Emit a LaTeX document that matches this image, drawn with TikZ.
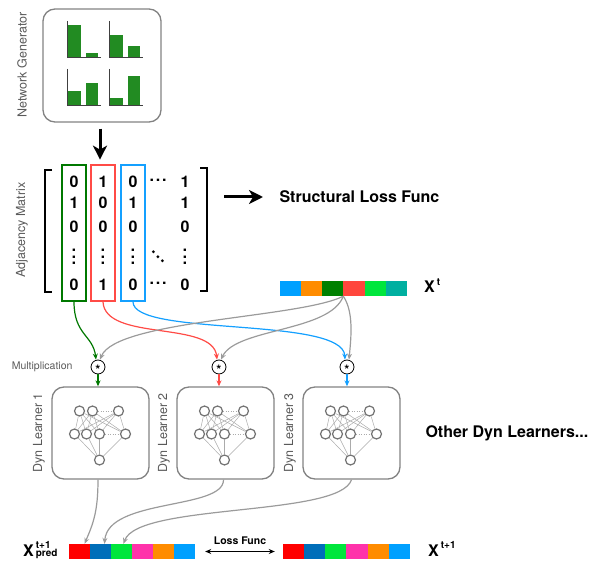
\documentclass[tikz,border=0pt]{standalone}
\usepackage{fontspec}
\setmainfont{TeX Gyre Heros}
\usetikzlibrary{arrows.meta,positioning}
\definecolor{gengreen}{RGB}{34,139,34}
\definecolor{colgreen}{RGB}{0,120,0}
\definecolor{colred}{RGB}{255,75,70}
\definecolor{colblue}{RGB}{20,160,255}
\definecolor{cblue}{RGB}{0,160,255}
\definecolor{corange}{RGB}{255,140,0}
\definecolor{cdkgreen}{RGB}{0,128,0}
\definecolor{cred}{RGB}{255,70,60}
\definecolor{cgreen}{RGB}{0,230,60}
\definecolor{cteal}{RGB}{0,175,160}
\definecolor{predred}{RGB}{255,0,0}
\definecolor{cnavy}{RGB}{0,110,185}
\definecolor{cpink}{RGB}{255,50,170}
\definecolor{boxgray}{RGB}{130,130,130}
\definecolor{txtgray}{RGB}{90,90,90}
\definecolor{flowgray}{RGB}{155,155,155}
\definecolor{nngray}{RGB}{115,115,115}
\newcommand\dotrow{.\hspace{1.8pt}.\hspace{1.8pt}.}
\newcommand\mvdots{\rotatebox{90}{\dotrow}}
\newcommand\mcdots{\raisebox{4pt}{\dotrow}}
\newcommand\mddots{\rotatebox{-45}{\dotrow}}
\newcommand\xlab[2]{\textbf{X}\hspace{2pt}{\fontsize{10}{10}\selectfont\bfseries
  \begin{tabular}[b]{@{}l@{}}#1\\[-2.5pt]\mbox{}#2\end{tabular}}}
\begin{document}
\begin{tikzpicture}[x=1pt,y=-1pt,
  panel/.style={draw=boxgray,line width=1.3pt,rounded corners=12pt},
  learner/.style={panel,minimum width=97pt,minimum height=92pt},
  colbox/.style={line width=1.6pt,minimum width=24pt,minimum height=136pt},
  entry/.style={font=\fontsize{16}{16}\selectfont\bfseries,inner sep=0pt},
  sidelbl/.style={font=\fontsize{12.5}{12.5}\selectfont,text=txtgray,rotate=90},
  bigtext/.style={font=\fontsize{16}{19}\selectfont\bfseries},
  neuron/.style={circle,draw=nngray,fill=white,line width=1.2pt,minimum size=10pt,inner sep=0pt},
  nnedge/.style={draw=nngray!60,line width=0.5pt},
  mulnode/.style={circle,draw,line width=0.8pt,inner sep=0pt,minimum size=14pt},
  cell/.style={minimum width=21.2pt,minimum height=15pt,inner sep=0pt},
  flow/.style={line width=1.2pt,-{Stealth[length=6pt,width=5pt]}},
  bigarrow/.style={line width=3pt,-{Stealth[length=14pt,width=14pt,inset=4pt]}}]
\useasboundingbox (0,0) rectangle (595,561);

% network generator
\node[panel,minimum width=118pt,minimum height=113pt] (gen) at (102,65.5) {};
\foreach \cx/\cy/\ha/\hb in {67/57/32/4,109/57/22/11,67/105/14/22,109/105/7/29} {
  \fill[gengreen] (\cx+1,\cy) rectangle ++(13,-\ha);
  \fill[gengreen] (\cx+19,\cy) rectangle ++(12,-\hb);
  \draw[line width=0.8pt,black!75] (\cx,\cy-36) -- (\cx,\cy) -- (\cx+34,\cy);
}
\node[sidelbl] (genlbl) at (22,65) {Network Generator};
\draw[bigarrow] ([xshift=-2pt,yshift=-6pt]gen.south) -- ++(0,31);

% adjacency matrix
\node[sidelbl] (adjlbl) at (22,230) {Adjacency Matrix};
\node[colbox,draw=colgreen] (colg) at (74,233) {};
\node[colbox,draw=colred] (colr) at (103,233) {};
\node[colbox,draw=colblue] (colb) at (133,233) {};
\foreach \y/\a/\b/\c/\d/\e [count=\r] in {182/0/1/0/\mcdots/1, 203/1/0/1//1, 227/0/0/0//0,
    257/\mvdots/\mvdots/\mvdots/\mddots/\mvdots, 285/0/1/0/\mcdots/0} {
  \node[entry] (e\r-1) at (74,\y) {\a};
  \node[entry] (e\r-2) at (103,\y) {\b};
  \node[entry] (e\r-3) at (133,\y) {\c};
  \node[entry] (e\r-4) at (158,\y) {\d};
  \node[entry] (e\r-5) at (185,\y) {\e};
}
\draw[line width=1.5pt] (52,170) -| (45,292) -- (52,292);
\draw[line width=1.5pt] (200,168) -| (207,291) -- (200,291);
\node[bigtext,anchor=west] (slf) at (276,197) {Structural Loss Func};
\draw[bigarrow] ([xshift=-52pt]slf.west) -- ([xshift=-13pt]slf.west);

% input vector
\foreach \c [count=\i] in {cblue,corange,cdkgreen,cred,cgreen,cteal}
  \node[cell,fill=\c] (xt\i) at (269.4+21.17*\i,288.5) {};
\node[bigtext,anchor=base west,inner sep=0pt] (xtlbl) at (424,293) {\xlab{t}{}};

% multiplication
\foreach \b/\x in {1/98,2/219,3/347}
  \node[mulnode] (mul\b) at (\x,367) {\raisebox{-7.3pt}[0pt][0pt]{\fontsize{13}{13}\selectfont\bfseries *}};
\node[font=\fontsize{10.5}{10.5}\selectfont,text=txtgray,anchor=east] (multlbl) at (76,367) {Multiplication};

\draw[flow,colgreen] (colg.south) .. controls (74,335) and (93,335) .. ([xshift=-2pt]mul1.north);
\draw[flow,colred] (colr.south) .. controls (105,342) and (213,320) .. ([xshift=-2pt]mul2.north);
\draw[flow,colblue] (colb.south) .. controls (133,337) and (343,316) .. ([xshift=-2pt]mul3.north);
\draw[flow,flowgray] (xt4.south west) .. controls (300,318) and (116,320) .. ([xshift=2pt]mul1.north);
\draw[flow,flowgray] (xt4.south west) .. controls (330,332) and (236,328) .. ([xshift=2pt]mul2.north);
\draw[flow,flowgray] (xt4.south west) .. controls (354,312) and (351,338) .. ([xshift=2pt]mul3.north);

% dyn learners
\node[learner] (box1) at (100.5,433) {};
\node[learner] (box2) at (225.5,433) {};
\node[learner] (box3) at (351.5,433) {};
\draw[flow,colgreen] (mul1.south) -- (mul1 |- box1.north);
\draw[flow,colred] (mul2.south) -- (mul2 |- box2.north);
\draw[flow,colblue] (mul3.south) -- (mul3 |- box3.north);
\foreach \b in {1,2,3} {
  \node[sidelbl,anchor=south] (lrn\b) at ([xshift=-3pt]box\b.west) {Dyn Learner \b};
  \foreach \dx [count=\i] in {-21,-8,18}
    \node[neuron] (t\b-\i) at ([shift={(\dx,-22)}]box\b.center) {};
  \foreach \dx [count=\j] in {-26,-14,-1,25}
    \node[neuron] (m\b-\j) at ([shift={(\dx,1)}]box\b.center) {};
  \node[neuron] (o\b) at ([shift={(-1,27)}]box\b.center) {};
  \foreach \i in {1,2,3}
    \foreach \j in {1,2,3,4}
      \draw[nnedge] (t\b-\i) -- (m\b-\j);
  \foreach \j in {1,2,3,4}
    \draw[nnedge] (m\b-\j) -- (o\b);
  \draw[nnedge,dotted,line width=0.8pt] (t\b-2) -- (t\b-3);
  \draw[nnedge,dotted,line width=0.8pt] (m\b-3) -- (m\b-4);
}
\node[bigtext,anchor=west] (others) at (422,433) {Other Dyn Learners...};

% outputs
\foreach \c [count=\i] in {predred,cnavy,cgreen,cpink,corange,cblue} {
  \node[cell,minimum width=21pt,fill=\c] (p\i) at (58.5+21*\i,551.5) {};
  \node[cell,fill=\c] (tr\i) at (272.4+21.17*\i,551.5) {};
}
\node[bigtext,anchor=base west,inner sep=0pt] (predlbl) at (23,556) {\xlab{t+1}{pred}};
\node[bigtext,anchor=base west,inner sep=0pt] (truelbl) at (428,556) {\xlab{t+1}{}};
\draw[line width=1.2pt,{Stealth[length=6pt,width=5pt]}-{Stealth[length=6pt,width=5pt]}]
  ([xshift=10pt]p6.east) -- ([xshift=-8pt]tr1.west)
  node[midway,above=3pt,font=\fontsize{10.5}{10.5}\selectfont\bfseries] (losslbl) {Loss Func};

\draw[flow,flowgray] ([xshift=-2.5pt]box1.south) .. controls (98,512) and (93,524) .. ([xshift=5pt]p1.north);
\draw[flow,flowgray] ([xshift=-2pt]box2.south) .. controls (224,510) and (108,498) .. ([xshift=4pt]p2.north);
\draw[flow,flowgray] (box3.south) .. controls (340,517) and (138,503) .. ([xshift=2pt]p3.north);
\end{tikzpicture}
\end{document}
